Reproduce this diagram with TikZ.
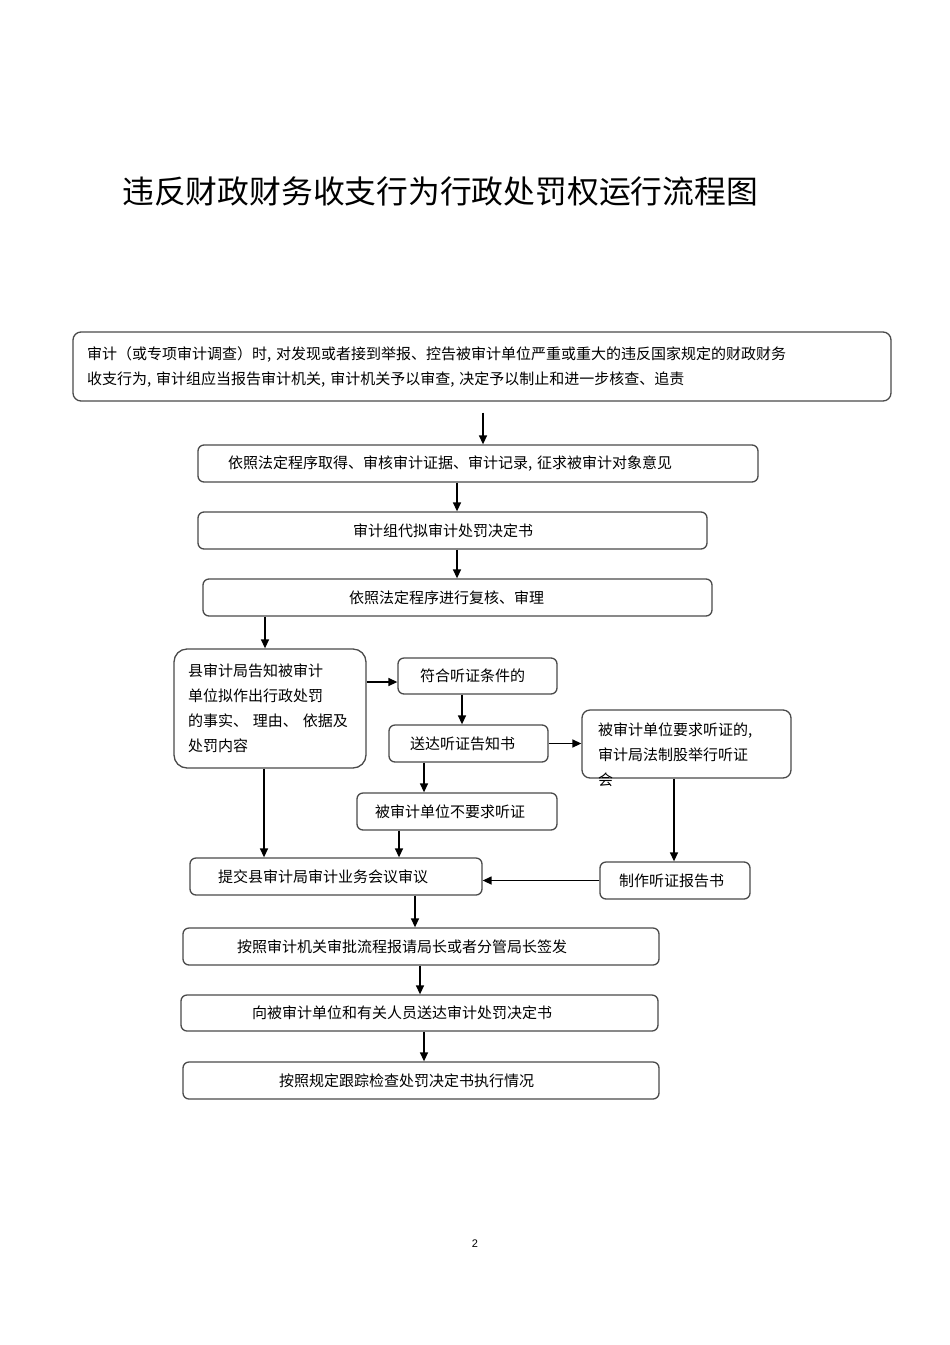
\documentclass[tikz,border=0pt]{standalone}
\usepackage{fontspec}
\setmainfont{Liberation Sans}
\newfontfamily\cjk{Noto Sans CJK SC}
\usetikzlibrary{arrows.meta}
\definecolor{boxgray}{HTML}{4A4A4A}
\begin{document}
\begin{tikzpicture}[x=1pt,y=-1pt,
  box/.style={draw=boxgray, line width=1.3pt, rounded corners=6pt, minimum height=37pt,
    inner sep=0pt, align=left, font=\cjk\fontsize{15}{25}\selectfont, text=black},
  arr/.style={draw=black, line width=1.4pt, -{Triangle[length=9pt,width=8pt]}}]
\useasboundingbox[fill=white] (0,0) rectangle (950,1345);

% title
\node[font=\cjk\fontsize{31.8}{36}\selectfont, anchor=west, inner sep=0pt] (title) at (122,191)
  {违反财政财务收支行为行政处罚权运行流程图};

% boxes
\node[box, text width=818pt, minimum height=69pt, rounded corners=8pt] (top) at (482,366.5)
  {\hspace*{14pt}审计（或专项审计调查）时, 对发现或者接到举报、控告被审计单位严重或重大的违反国家规定的财政财务\\
   \hspace*{14pt}收支行为, 审计组应当报告审计机关, 审计机关予以审查, 决定予以制止和进一步核查、追责};
\node[box, text width=560pt] (b2) at (478,463.5)
  {\hspace*{30pt}依照法定程序取得、审核审计证据、审计记录, 征求被审计对象意见};
\node[box, text width=509pt] (b3) at (452.5,530.5)
  {\hspace*{155pt}审计组代拟审计处罚决定书};
\node[box, text width=509pt] (b4) at (457.5,597.5)
  {\hspace*{146pt}依照法定程序进行复核、审理};
\node[box, text width=192pt, minimum height=119pt, rounded corners=13pt] (b5) at (270,708.5)
  {\hspace*{14pt}县审计局告知被审计\\
   \hspace*{14pt}单位拟作出行政处罚\\
   \hspace*{14pt}的事实、\ 理由、\ 依据及\\
   \hspace*{14pt}处罚内容};
\node[box, text width=159pt, minimum height=36pt] (b6) at (477.5,676)
  {\hspace*{22pt}符合听证条件的};
\node[box, text width=159pt] (b7) at (468.5,743.5)
  {\hspace*{21pt}送达听证告知书};
\node[box, minimum width=209pt, minimum height=68pt, rounded corners=8pt] (b8) at (686.5,744) {};
\node[anchor=north west, inner sep=0pt, align=left, font=\cjk\fontsize{15}{25}\selectfont] (b8t) at (598,722.5)
  {被审计单位要求听证的,\\审计局法制股举行听证\\会};
\node[box, text width=150pt] (b9) at (675,880.5)
  {\hspace*{19pt}制作听证报告书};
\node[box, text width=200pt] (b11) at (457,811.5)
  {\hspace*{18pt}被审计单位不要求听证};
\node[box, text width=292pt] (b10) at (336,876.5)
  {\hspace*{28pt}提交县审计局审计业务会议审议};
\node[box, text width=476pt] (b12) at (421,946.5)
  {\hspace*{54pt}按照审计机关审批流程报请局长或者分管局长签发};
\node[box, text width=477pt, minimum height=36pt] (b13) at (419.5,1013)
  {\hspace*{71pt}向被审计单位和有关人员送达审计处罚决定书};
\node[box, text width=476pt] (b14) at (421,1080.5)
  {\hspace*{96pt}按照规定跟踪检查处罚决定书执行情况};

% page number
\node[font=\fontsize{11}{13}\selectfont, inner sep=0pt] (pg) at (475,1244) {2};

% x positions of vertical connectors
\coordinate (x483) at (483,0);
\coordinate (x457) at (457,0);
\coordinate (x265) at (265,0);
\coordinate (x264) at (264,0);
\coordinate (x462) at (462,0);
\coordinate (x424) at (424,0);
\coordinate (x399) at (399,0);
\coordinate (x674) at (674,0);
\coordinate (x415) at (415,0);
\coordinate (x420) at (420,0);
\coordinate (y682) at (0,682);

% connectors
\draw[arr, shorten <=11pt] (top.south -| x483) -- (b2.north -| x483);
\draw[arr] (b2.south -| x457) -- (b3.north -| x457);
\draw[arr] (b3.south -| x457) -- (b4.north -| x457);
\draw[arr] (b4.south -| x265) -- (b5.north -| x265);
\draw[arr] (b5.east |- y682) -- (b6.west |- y682);
\draw[arr] (b6.south -| x462) -- (b7.north -| x462);
\draw[arr] (b7.east) -- (b7.east -| b8.west);
\draw[arr] (b7.south -| x424) -- (b11.north -| x424);
\draw[arr] (b8.south -| x674) -- (b9.north -| x674);
\draw[arr] (b9.west) -- (b9.west -| b10.east);
\draw[arr] (b11.south -| x399) -- (b10.north -| x399);
\draw[arr] (b5.south -| x264) -- (b10.north -| x264);
\draw[arr] (b10.south -| x415) -- (b12.north -| x415);
\draw[arr] (b12.south -| x420) -- (b13.north -| x420);
\draw[arr] (b13.south -| x424) -- (b14.north -| x424);
\end{tikzpicture}
\end{document}
